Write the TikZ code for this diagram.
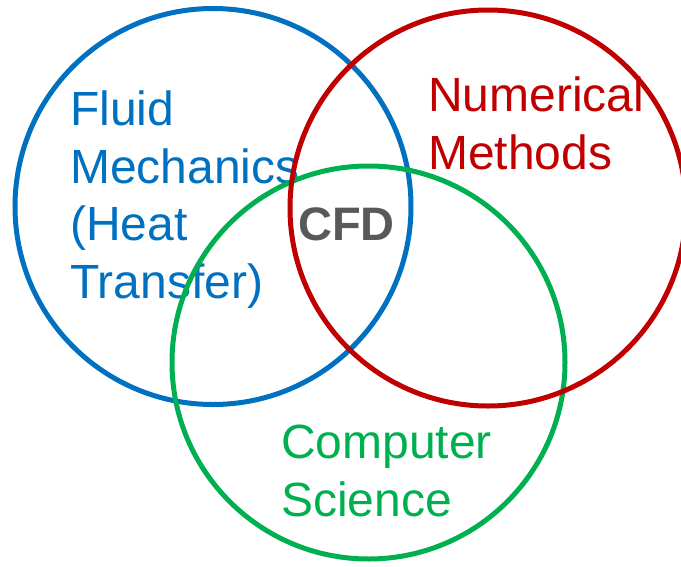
\documentclass[tikz,border=0pt]{standalone}
\usepackage{fontspec}
\setmainfont{Liberation Sans}
\definecolor{cblue}{HTML}{0070C0}
\definecolor{cred}{HTML}{C00000}
\definecolor{cgreen}{HTML}{00B050}
\definecolor{cgray}{HTML}{595959}
\begin{document}
\begin{tikzpicture}[x=1pt,y=-1pt,
  ring/.style={line width=5pt,draw=#1},
  lbl/.style={text=#1,inner sep=0,anchor=base west,align=left,
    font=\fontsize{48}{57.5}\selectfont}]
\useasboundingbox (0,0) rectangle (681,566);
\clip (0,0) rectangle (681,566);
\draw[ring=cblue] (213,206.5) circle[radius=198];
\node[lbl=cblue] (fluid) at (70,298) {Fluid\\Mechanics\\(Heat\\Transfer)};
\node[lbl=cred] (num) at (428,169) {Numerical\\Methods};
\node[lbl=cgreen] (comp) at (281,516) {Computer\\Science};
\draw[ring=cgreen] (368.5,362.5) circle[radius=196.5];
\draw[ring=cred] (488,208) circle[radius=198];
\node[inner sep=0,anchor=base west,text=cgray,font=\fontsize{47}{52}\selectfont\bfseries] (cfd) at (298,240) {CFD};
\end{tikzpicture}
\end{document}
